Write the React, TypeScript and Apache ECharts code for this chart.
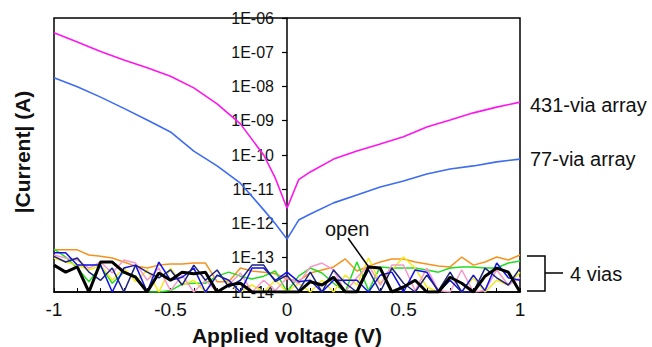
import React, { useEffect, useRef } from "react";
import * as echarts from "echarts";

// Voltages for the two via-array curves
const arrayVoltages = [-1, -0.9, -0.8, -0.7, -0.6, -0.5, -0.4, -0.3, -0.2, -0.1, -0.05, 0, 0.05, 0.1, 0.2, 0.3, 0.4, 0.5, 0.6, 0.7, 0.8, 0.9, 1];
const via431 = [3.7e-7, 2.0e-7, 1.05e-7, 5.9e-8, 3.5e-8, 2.0e-8, 9.1e-9, 3.1e-9, 8.1e-10, 1.0e-10, 2.1e-11, 2.8e-12, 1.9e-11, 3.2e-11, 7.6e-11, 1.3e-10, 2.1e-10, 3.4e-10, 6.6e-10, 1.05e-9, 1.7e-9, 2.5e-9, 3.5e-9];
const via77 = [1.8e-8, 9.8e-9, 4.9e-9, 2.3e-9, 1.05e-9, 4.7e-10, 1.3e-10, 4.8e-11, 1.5e-11, 2.5e-12, 9.8e-13, 3.5e-13, 1.26e-12, 1.9e-12, 4.0e-12, 6.8e-12, 1.17e-11, 1.74e-11, 2.8e-11, 3.9e-11, 4.8e-11, 6.3e-11, 7.6e-11];

// Voltages for the 4-via / open noise-floor traces
const noiseVoltages = [-1, -0.95, -0.9, -0.85, -0.8, -0.75, -0.7, -0.65, -0.6, -0.55, -0.5, -0.45, -0.4, -0.35, -0.3, -0.25, -0.2, -0.15, -0.1, -0.05, 0, 0.05, 0.1, 0.15, 0.2, 0.25, 0.3, 0.35, 0.4, 0.45, 0.5, 0.55, 0.6, 0.65, 0.7, 0.75, 0.8, 0.85, 0.9, 0.95, 1];
const viaOrange = [1.7e-13, 1.7e-13, 1.7e-13, 1.2e-13, 1.1e-13, 9.8e-14, 7.5e-14, 5.7e-14, 5.0e-14, 6.1e-14, 6.6e-14, 6.6e-14, 7.0e-14, 7.0e-14, 2.0e-14, 2.0e-14, 5.0e-14, 4.1e-14, 3.8e-14, 3.4e-14, 2.4e-14, 2.1e-14, 3.6e-14, 4.4e-14, 5.4e-14, 9.2e-14, 4.1e-14, 5.7e-14, 7.5e-14, 9.2e-14, 9.2e-14, 7.5e-14, 6.6e-14, 5.7e-14, 5.4e-14, 1.05e-13, 6.1e-14, 7.5e-14, 1.05e-13, 8.6e-14, 1.2e-13];
const viaGreen = [1.8e-13, 1.05e-13, 5.0e-14, 2.0e-14, 5.7e-14, 1.8e-14, 3.8e-14, 2.9e-14, 1e-14, 1e-14, 1.1e-14, 1.7e-14, 1.8e-14, 1.8e-14, 2.9e-14, 3.8e-14, 2.9e-14, 2.4e-14, 2.9e-14, 4.1e-14, 1e-14, 2.9e-14, 5.0e-14, 3.6e-14, 1.8e-14, 1e-14, 7.5e-14, 1.1e-14, 5.4e-14, 5.0e-14, 5.0e-14, 5.0e-14, 4.4e-14, 3.8e-14, 5.0e-14, 5.4e-14, 5.4e-14, 5.0e-14, 5.0e-14, 7.0e-14, 8.0e-14];
const viaYellow = [9.8e-14, 7.5e-14, 6.1e-14, 4.4e-14, 6.1e-14, 2.2e-14, 5.0e-14, 2.0e-14, 4.4e-14, 1e-14, 5.0e-14, 1.6e-14, 2.2e-14, 1e-14, 3.1e-14, 2.0e-14, 1e-14, 1.6e-14, 1e-14, 2.2e-14, 1e-14, 1.8e-14, 1e-14, 2.2e-14, 1e-14, 3.1e-14, 1.6e-14, 9.8e-14, 1.8e-14, 4.4e-14, 1.05e-13, 5.0e-14, 1.4e-14, 1e-14, 2.2e-14, 1e-14, 2.6e-14, 1e-14, 2.2e-14, 1.6e-14, 3.8e-14];
const viaPink = [1.2e-13, 9.8e-14, 8.6e-14, 5.0e-14, 7.5e-14, 3.6e-14, 8.6e-14, 7.0e-14, 2.2e-14, 5.0e-14, 1.1e-14, 3.1e-14, 1e-14, 2.2e-14, 1e-14, 1.6e-14, 3.6e-14, 1e-14, 2.2e-14, 1.1e-14, 2.6e-14, 1.8e-14, 5.4e-14, 7.0e-14, 4.4e-14, 1e-14, 2.6e-14, 6.1e-14, 1.6e-14, 6.1e-14, 6.1e-14, 1.1e-14, 5.0e-14, 1.1e-14, 1e-14, 4.4e-14, 1e-14, 1.1e-14, 4.4e-14, 1.6e-14, 2.6e-14];
const viaBlue = [1.4e-13, 1.4e-13, 6.1e-14, 6.1e-14, 6.1e-14, 1e-14, 5.0e-14, 6.1e-14, 1e-14, 7.5e-14, 2.2e-14, 2.7e-14, 5.0e-14, 1e-14, 3.1e-14, 2.2e-14, 1e-14, 5.0e-14, 5.0e-14, 2.2e-14, 3.8e-14, 2.0e-14, 2.2e-14, 1e-14, 2.2e-14, 2.2e-14, 2.2e-14, 1e-14, 3.1e-14, 3.8e-14, 1e-14, 4.4e-14, 3.8e-14, 1e-14, 2.2e-14, 1e-14, 3.1e-14, 1.1e-14, 7.0e-14, 2.6e-14, 2.2e-14];
const viaNavy = [1.1e-13, 7.5e-14, 9.8e-14, 3.8e-14, 2.2e-14, 5.0e-14, 1e-14, 6.1e-14, 3.8e-14, 2.6e-14, 4.4e-14, 1.6e-14, 6.1e-14, 2.2e-14, 4.4e-14, 1.4e-14, 2.2e-14, 6.1e-14, 6.1e-14, 2.0e-14, 3.1e-14, 1.1e-14, 3.8e-14, 1e-14, 4.4e-14, 1.8e-14, 1e-14, 4.4e-14, 1e-14, 5.0e-14, 1.8e-14, 1e-14, 3.1e-14, 1.1e-14, 3.8e-14, 1e-14, 1e-14, 5.0e-14, 2.6e-14, 1.6e-14, 5.0e-14];
const openCircuit = [6.1e-14, 3.8e-14, 5.4e-14, 1e-14, 7.5e-14, 7.5e-14, 3.8e-14, 2.7e-14, 1e-14, 3.6e-14, 2.2e-14, 3.8e-14, 3.4e-14, 3.8e-14, 1e-14, 1.6e-14, 1.8e-14, 1e-14, 1e-14, 1e-14, 1e-14, 1e-14, 2.0e-14, 1.6e-14, 2.7e-14, 1e-14, 1e-14, 5.4e-14, 5.0e-14, 1e-14, 1.4e-14, 2.2e-14, 1e-14, 1e-14, 2.7e-14, 1.8e-14, 1e-14, 2.9e-14, 5.0e-14, 3.8e-14, 1e-14];

const xTickValues = [-1, -0.5, 0, 0.5, 1];
const yTickLabels = ["1E-14", "1E-13", "1E-12", "1E-11", "1E-10", "1E-09", "1E-08", "1E-07", "1E-06"];

const FONT = '"Liberation Sans", Arial, Helvetica, sans-serif';

export default function App() {
  const ref = useRef<HTMLDivElement>(null);

  useEffect(() => {
    if (!ref.current) return;
    const chart = echarts.init(ref.current, undefined, { renderer: "svg" });

    const pairs = (xs: number[], ys: number[]) => xs.map((x, i) => [x, ys[i]]);
    const noise = (name: string, ys: number[], color: string, width = 1.5) => ({
      name,
      type: "line",
      data: pairs(noiseVoltages, ys),
      showSymbol: false,
      symbol: "none",
      clip: true,
      lineStyle: { color, width },
      z: 2,
    });

    const plotLeft = 54;
    const plotRight = 520;
    const zeroX = plotLeft + (plotRight - plotLeft) * (0 - xTickValues[0]) / (xTickValues[xTickValues.length - 1] - xTickValues[0]);

    chart.setOption({
      animation: false,
      backgroundColor: "#fff",
      grid: {
        left: plotLeft,
        right: 652 - plotRight,
        top: 18,
        bottom: 55,
        show: true,
        borderColor: "#000",
        borderWidth: 1.5,
        backgroundColor: "transparent",
      },
      xAxis: {
        type: "value",
        min: xTickValues[0],
        max: xTickValues[xTickValues.length - 1],
        interval: 0.5,
        axisLine: { show: true, onZero: false, lineStyle: { color: "#000", width: 1.5 } },
        axisTick: { show: true, inside: true, length: 4, lineStyle: { color: "#000", width: 1 } },
        minorTick: { show: true, splitNumber: 5, length: 4, lineStyle: { color: "#000", width: 1 } },
        splitLine: { show: false },
        minorSplitLine: { show: false },
        axisLabel: {
          fontSize: 19,
          color: "#111",
          fontFamily: FONT,
          margin: 8,
          formatter: (v: number) => String(v),
        },
      },
      yAxis: {
        type: "log",
        logBase: 10,
        min: 1e-14,
        max: 1e-6,
        position: "left",
        offset: -(zeroX - plotLeft),
        axisLine: { show: true, onZero: false, lineStyle: { color: "#000", width: 1.5 } },
        axisTick: { show: true, inside: false, length: 5, lineStyle: { color: "#000", width: 1.2 } },
        splitLine: { show: false },
        minorTick: { show: false },
        axisLabel: {
          fontSize: 16,
          color: "#111",
          fontFamily: FONT,
          margin: 13,
          formatter: (v: number) => {
            const idx = Math.round(Math.log10(v)) + 14;
            return yTickLabels[idx] ?? "";
          },
        },
        z: 1,
      },
      series: [
        noise("orange", viaOrange, "#f5921e"),
        noise("green", viaGreen, "#22dd22"),
        noise("yellow", viaYellow, "#f2ea1a"),
        noise("pink", viaPink, "#f59bc8"),
        noise("blue", viaBlue, "#1010e8"),
        noise("navy", viaNavy, "#1c2380"),
        noise("open", openCircuit, "#000000", 3),
        {
          name: "77-via array",
          type: "line",
          data: pairs(arrayVoltages, via77),
          showSymbol: false,
          symbol: "none",
          lineStyle: { color: "#3d6cf0", width: 1.6 },
          z: 3,
        },
        {
          name: "431-via array",
          type: "line",
          data: pairs(arrayVoltages, via431),
          showSymbol: false,
          symbol: "none",
          lineStyle: { color: "#ff14f0", width: 1.6 },
          z: 3,
        },
      ],
      graphic: [
        {
          type: "text",
          x: 22,
          y: 152,
          rotation: Math.PI / 2,
          style: {
            text: "|Current| (A)",
            font: `bold 21px ${FONT}`,
            fill: "#111",
            align: "center",
            verticalAlign: "middle",
          },
        },
        {
          type: "text",
          x: 287,
          y: 335,
          style: {
            text: "Applied voltage (V)",
            font: `bold 21px ${FONT}`,
            fill: "#111",
            align: "center",
            verticalAlign: "middle",
          },
        },
        {
          type: "text",
          x: 530,
          y: 105,
          style: { text: "431-via array", font: `20px ${FONT}`, fill: "#111", align: "left", verticalAlign: "middle" },
        },
        {
          type: "text",
          x: 530,
          y: 159,
          style: { text: "77-via array", font: `20px ${FONT}`, fill: "#111", align: "left", verticalAlign: "middle" },
        },
        {
          type: "text",
          x: 570,
          y: 274,
          style: { text: "4 vias", font: `20px ${FONT}`, fill: "#111", align: "left", verticalAlign: "middle" },
        },
        {
          type: "text",
          x: 325,
          y: 229,
          z: 10,
          style: { text: "open", font: `20px ${FONT}`, fill: "#111", align: "left", verticalAlign: "middle" },
        },
        {
          type: "line",
          z: 10,
          shape: { x1: 348, y1: 238, x2: 368, y2: 266 },
          style: { stroke: "#000", lineWidth: 1.5 },
        },
        {
          type: "polyline",
          shape: { points: [[527, 256], [545, 256], [545, 291], [527, 291]] },
          style: { stroke: "#000", lineWidth: 1.5, fill: null },
        },
        {
          type: "line",
          shape: { x1: 545, y1: 273, x2: 563, y2: 273 },
          style: { stroke: "#000", lineWidth: 1.5 },
        },
      ],
    });

    return () => chart.dispose();
  }, []);

  return <div ref={ref} style={{ width: 652, height: 347, position: "absolute", left: 0, top: 0 }} />;
}
